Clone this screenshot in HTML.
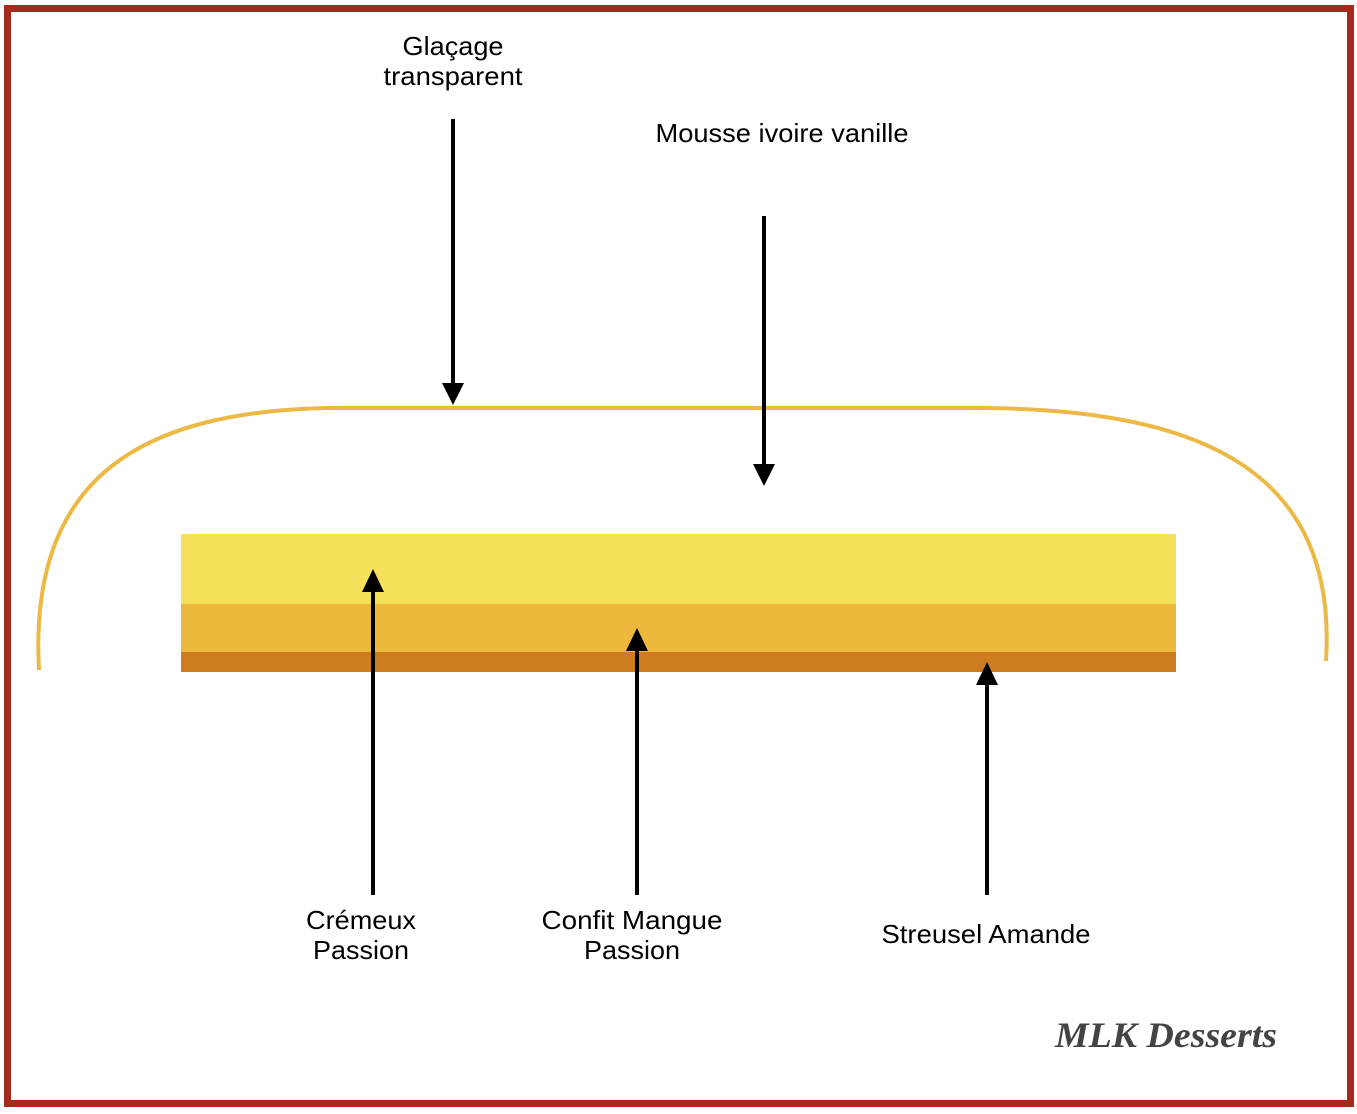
<!DOCTYPE html>
<html><head><style>
body{margin:0;background:#fff;}
svg{display:block;}
text{font-family:"Liberation Sans",sans-serif;font-size:26px;fill:#000;text-anchor:middle;}
</style></head><body>
<svg width="1357" height="1114" viewBox="0 0 1357 1114">
<rect x="0" y="0" width="1357" height="1114" fill="#fff"/>
<rect x="7.5" y="8.5" width="1343" height="1095" fill="none" stroke="#a32b1e" stroke-width="7"/>
<rect x="181" y="534" width="995" height="70" fill="#f6e25a"/>
<rect x="181" y="604" width="995" height="48" fill="#ecb93c"/>
<rect x="181" y="652" width="995" height="20" fill="#cd7d20"/>
<path d="M39,670 C28,470 150,412 327,408 L985,408 C1200,410 1338,470 1326,661" fill="none" stroke="#ebb944" stroke-width="4"/>
<g stroke="#000" stroke-width="4">
<line x1="453" y1="119" x2="453" y2="386"/>
<line x1="764" y1="216" x2="764" y2="468"/>
<line x1="373" y1="895" x2="373" y2="588"/>
<line x1="637" y1="895" x2="637" y2="648"/>
<line x1="987" y1="895" x2="987" y2="682"/>
</g>
<g fill="#000">
<polygon points="442,383 464,383 453,405"/>
<polygon points="753,464 775,464 764,486"/>
<polygon points="362,592 384,592 373,569"/>
<polygon points="626,651 648,651 637,628"/>
<polygon points="976,685 998,685 987,662"/>
</g>
<text x="453" y="55" textLength="101" lengthAdjust="spacingAndGlyphs">Glaçage</text>
<text x="453" y="85" textLength="139" lengthAdjust="spacingAndGlyphs">transparent</text>
<text x="782" y="142" textLength="253" lengthAdjust="spacingAndGlyphs">Mousse ivoire vanille</text>
<text x="361" y="929" textLength="110" lengthAdjust="spacingAndGlyphs">Crémeux</text>
<text x="361" y="959" textLength="96" lengthAdjust="spacingAndGlyphs">Passion</text>
<text x="632" y="929" textLength="181" lengthAdjust="spacingAndGlyphs">Confit Mangue</text>
<text x="632" y="959" textLength="96" lengthAdjust="spacingAndGlyphs">Passion</text>
<text x="986" y="943" textLength="209" lengthAdjust="spacingAndGlyphs">Streusel Amande</text>
<text x="1166" y="1047" textLength="222" lengthAdjust="spacingAndGlyphs" style="font-family:'Liberation Serif',serif;font-style:italic;font-weight:bold;font-size:36px;fill:#444;">MLK Desserts</text>
</svg>
</body></html>
